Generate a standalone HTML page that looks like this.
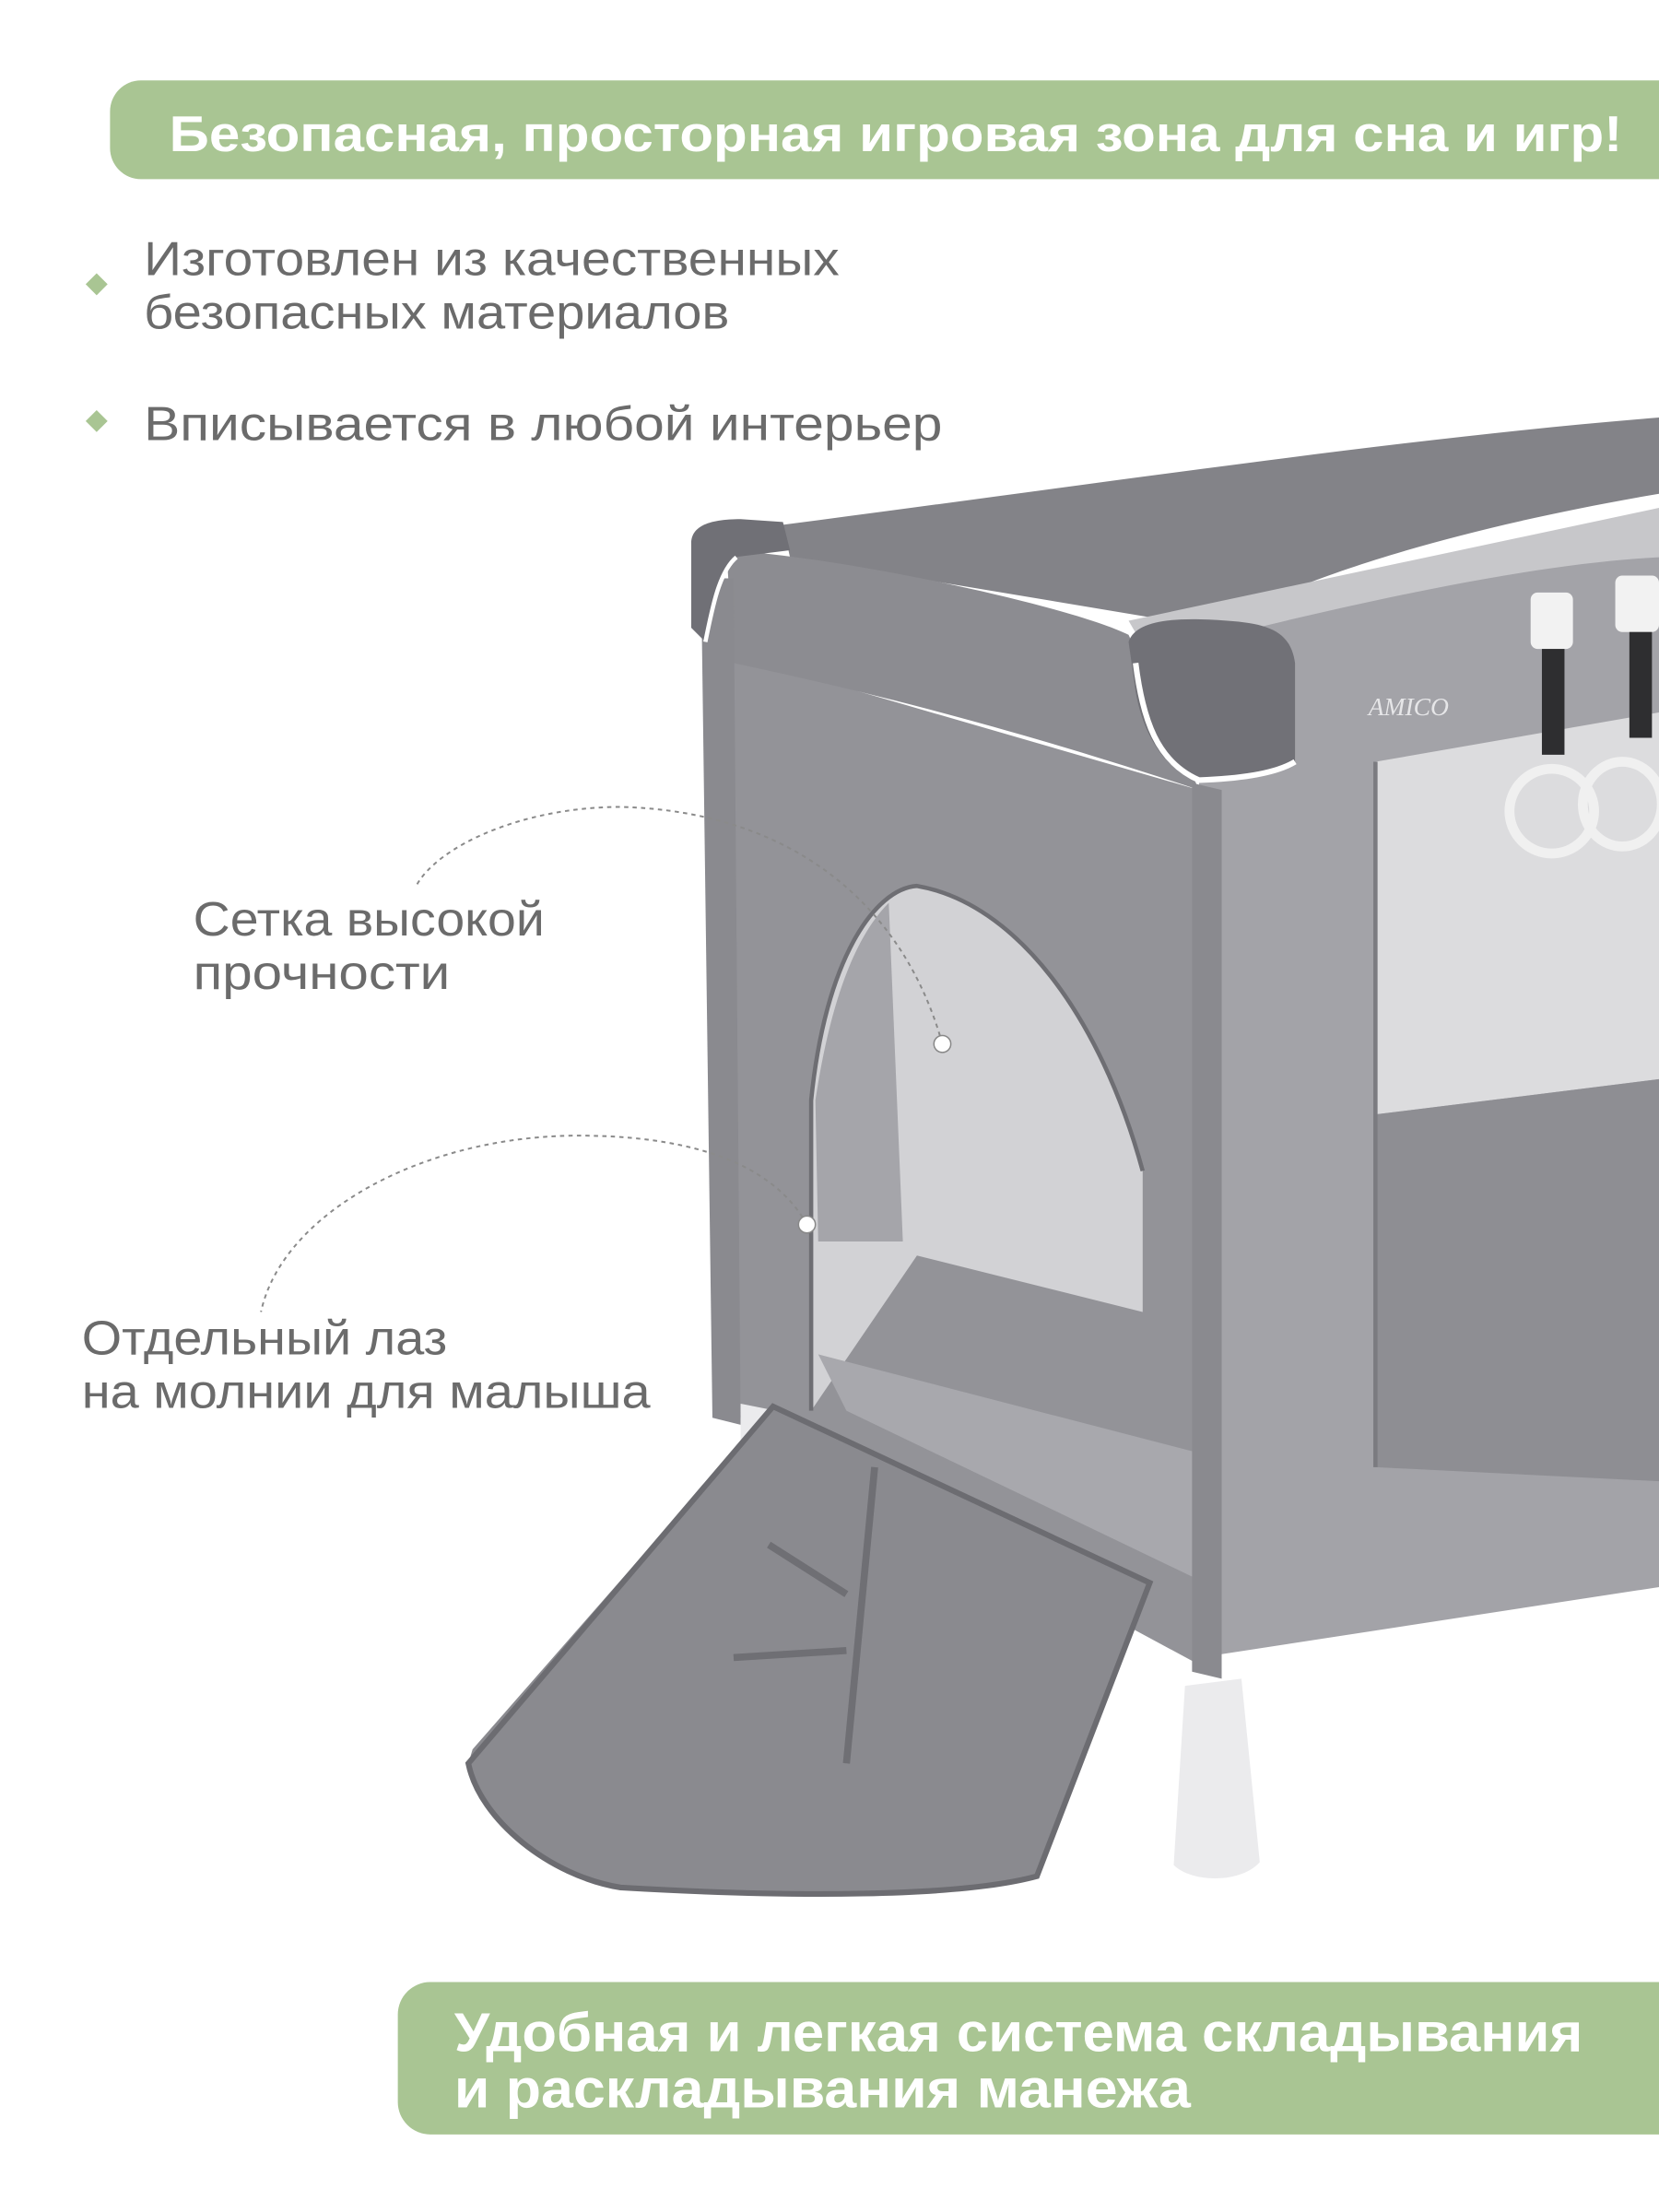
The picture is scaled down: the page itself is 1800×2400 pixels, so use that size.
<!DOCTYPE html>
<html><head><meta charset="utf-8"><style>
html,body{margin:0;padding:0;background:#fff;}
svg{display:block;}
</style></head><body>
<svg width="1800" height="2400" viewBox="0 0 1176 1568" xmlns="http://www.w3.org/2000/svg" font-family="'Liberation Sans', sans-serif">
<rect width="1176" height="1568" fill="#fff"/>
<!-- top banner -->
<path d="M100 57 H1176 V127 H100 A22 22 0 0 1 78 105 V79 A22 22 0 0 1 100 57 Z" fill="#a9c593"/>
<text x="120" y="107" font-size="36" font-weight="bold" fill="#fff" textLength="1030" lengthAdjust="spacingAndGlyphs">Безопасная, просторная игровая зона для сна и игр!</text>
<!-- bullets -->
<rect x="63" y="196" width="11" height="11" fill="#a9c593" transform="rotate(45 68.5 201.5)"/>
<text x="102" y="195" font-size="34" fill="#6b6b6b" textLength="493" lengthAdjust="spacingAndGlyphs">Изготовлен из качественных</text>
<text x="102" y="233" font-size="34" fill="#6b6b6b" textLength="415" lengthAdjust="spacingAndGlyphs">безопасных материалов</text>
<rect x="63" y="293" width="11" height="11" fill="#a9c593" transform="rotate(45 68.5 298.5)"/>
<text x="102" y="312" font-size="34" fill="#6b6b6b" textLength="566" lengthAdjust="spacingAndGlyphs">Вписывается в любой интерьер</text>

<!-- crib -->
<path d="M555 372 C800 340 1000 310 1176 296 V350 C1000 380 900 420 860 445 L560 395 Z" fill="#838388"/>
<path d="M800 440 L1176 360 V480 L870 560 Z" fill="#c7c7ca"/>
<path d="M850 455 C950 430 1080 400 1176 395 V1125 L850 1175 Z" fill="#a3a3a8"/>
<path d="M975 540 L1176 505 V765 L975 790 Z" fill="#dcdcde"/>
<path d="M975 790 L1176 765 V1050 L975 1040 Z" fill="#8e8e93"/>
<path d="M975 540 V1040" stroke="#7b7b80" stroke-width="3"/>
<path d="M505 460 L850 560 L850 1180 L525 1005 Z" fill="#939398"/>
<path d="M515 390 C600 395 760 430 800 450 L850 560 C700 510 590 485 520 470 Z" fill="#8c8c91"/>
<path d="M497 410 L520 410 L525 1010 L505 1005 Z" fill="#8a8a8f"/>
<path d="M575 1000 L575 780 C585 680 620 630 650 628 C720 640 780 720 810 830 L810 930 L650 890 Z" fill="#d2d2d5"/>
<path d="M575 1000 L575 780 C585 680 620 630 650 628 C720 640 780 720 810 830" fill="none" stroke="#6e6e73" stroke-width="3"/>
<path d="M578 780 C590 700 610 660 630 640 L640 880 L580 880 Z" fill="#a5a5aa"/>
<path d="M580 960 L850 1030 L850 1120 L600 1000 Z" fill="#a8a8ad"/>
<path d="M490 385 C490 372 505 368 525 368 L555 370 L560 390 L520 395 C510 410 505 440 500 455 L490 445 Z" fill="#707076"/>
<path d="M522 395 C510 405 505 430 500 455" stroke="#fff" stroke-width="3" fill="none"/>
<path d="M800 455 C805 440 830 437 870 440 C900 442 915 448 918 470 L918 540 C900 550 870 550 850 555 C825 545 810 520 805 490 Z" fill="#717177"/>
<path d="M805 470 C810 510 820 540 850 553 C880 552 905 548 918 540" stroke="#fff" stroke-width="4" fill="none"/>
<text x="970" y="507" font-size="18" fill="#e6e6e8" font-family="'Liberation Serif', serif" font-style="italic">AMICO</text>
<rect x="1085" y="420" width="30" height="40" rx="5" fill="#f2f2f2"/>
<rect x="1093" y="460" width="16" height="75" fill="#2e2e30"/>
<rect x="1145" y="408" width="31" height="40" rx="5" fill="#f2f2f2"/>
<rect x="1155" y="448" width="16" height="75" fill="#2e2e30"/>
<ellipse cx="1100" cy="575" rx="30" ry="30" fill="none" stroke="#f0f0f0" stroke-width="7"/>
<ellipse cx="1150" cy="570" rx="28" ry="30" fill="none" stroke="#f0f0f0" stroke-width="7"/>
<path d="M845 555 L866 560 L866 1190 L845 1185 Z" fill="#8a8a8f"/>
<path d="M840 1195 L880 1190 L893 1320 C880 1335 845 1335 832 1322 Z" fill="#ebebed"/>
<path d="M525 995 L550 1000 L548 1040 L525 1040 Z" fill="#ebebed"/>
<path d="M548 997 L815 1122 L735 1330 C680 1345 560 1345 440 1338 C390 1330 340 1290 332 1250 L335 1240 Z" fill="#8a8a8f"/>
<path d="M548 997 L815 1122 L735 1330 C680 1345 560 1345 440 1338 C390 1330 340 1290 332 1250 Z" fill="none" stroke="#6c6c71" stroke-width="4"/>
<path d="M620 1040 L600 1250 M600 1130 L545 1095 M600 1170 L520 1175" stroke="#6f6f74" stroke-width="5" fill="none"/>

<!-- callouts -->
<path d="M668 740 C640 640 560 575 440 572 C370 572 310 600 295 628" fill="none" stroke="#8a8a8a" stroke-width="1.3" stroke-dasharray="3 3"/>
<circle cx="668" cy="740" r="6" fill="#fff" stroke="#888" stroke-width="1"/>
<path d="M572 868 C545 820 480 805 410 805 C300 805 200 860 185 930" fill="none" stroke="#8a8a8a" stroke-width="1.3" stroke-dasharray="3 3"/>
<circle cx="572" cy="868" r="6" fill="#fff" stroke="#888" stroke-width="1"/>
<text x="137" y="663" font-size="34" fill="#6b6b6b" textLength="249" lengthAdjust="spacingAndGlyphs">Сетка высокой</text>
<text x="137" y="701" font-size="34" fill="#6b6b6b" textLength="182" lengthAdjust="spacingAndGlyphs">прочности</text>
<text x="58" y="960" font-size="34" fill="#6b6b6b" textLength="259" lengthAdjust="spacingAndGlyphs">Отдельный лаз</text>
<text x="58" y="998" font-size="34" fill="#6b6b6b" textLength="403" lengthAdjust="spacingAndGlyphs">на молнии для малыша</text>

<!-- bottom banner -->
<path d="M305 1405 H1176 V1513 H305 A23 23 0 0 1 282 1490 V1428 A23 23 0 0 1 305 1405 Z" fill="#a9c593"/>
<text x="322" y="1454" font-size="39" font-weight="bold" fill="#fff" textLength="800" lengthAdjust="spacingAndGlyphs">Удобная и легкая система складывания</text>
<text x="322" y="1494" font-size="39" font-weight="bold" fill="#fff" textLength="522" lengthAdjust="spacingAndGlyphs">и раскладывания манежа</text>
</svg>
</body></html>
